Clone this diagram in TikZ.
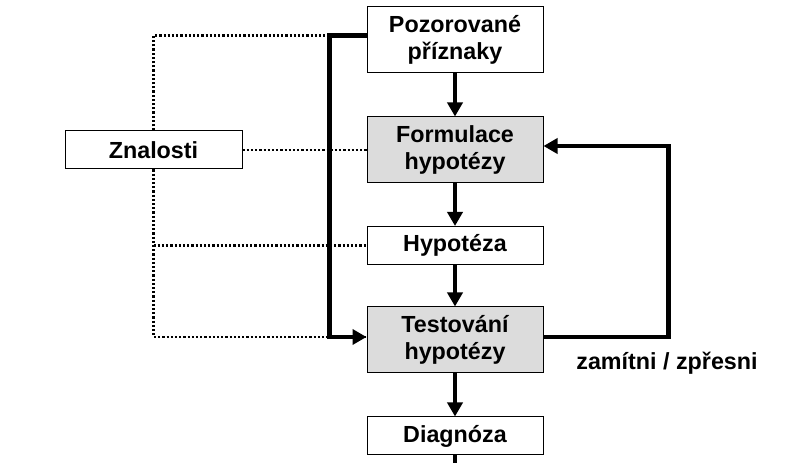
\documentclass[tikz,border=0pt]{standalone}
\usepackage{fontspec}
\setmainfont{Liberation Sans}
\usepackage{xcolor}
\usetikzlibrary{positioning,calc,arrows.meta}
\definecolor{boxgray}{HTML}{DCDCDC}

\begin{document}
\begin{tikzpicture}[x=1pt,y=1pt,
    box/.style={draw, line width=1pt, fill=white, minimum width=176pt, align=center, font=\fontsize{23.3}{27}\selectfont\bfseries, inner sep=0pt},
    tall/.style={box, minimum height=66pt},
    low/.style={box, minimum height=38pt},
    shaded/.style={fill=boxgray},
    flow/.style={line width=4.5pt, -{Triangle[length=14pt,width=15pt]}},
    know/.style={line width=2.2pt, dash pattern=on 2.2pt off 2pt}]
    \useasboundingbox (0,0) rectangle (787,463);
    % main column
    \node [tall] (poz) at (455, 423.5) {Pozorované\\příznaky};
    \node [tall, shaded] (form) at (455, 313) {Formulace\\hypotézy};
    \node [low] (hyp) at (455, 217.5) {Hypotéza};
    \node [tall, shaded] (test) at (455, 123) {Testování\\hypotézy};
    \node [low] (diag) at (455, 27) {Diagnóza};
    \node [low, minimum width=177pt] (znal) at (153.5, 313) {Znalosti};
    \node [font=\fontsize{23.3}{27}\selectfont\bfseries] (fb) at (667, 100) {zamítni / zpřesni};
    \coordinate (out) at (455, 0);
    % knowledge links
    \draw [know] (znal.north) |- ([yshift=4pt]poz.west);
    \draw [know] (znal.south) |- ([yshift=3pt]test.west);
    \draw [know] (znal.east) -- (form.west);
    \draw [know] (znal.south |- hyp.west) -- (hyp.west);
    % main flow
    \draw [flow] (poz) -- (form);
    \draw [flow] (form) -- (hyp);
    \draw [flow] (hyp) -- (test);
    \draw [flow] (test) -- (diag);
    \draw [line width=4.5pt] (diag.south) -- (out);
    \draw [flow] ([yshift=4pt]poz.west) -- ++(-37,0) |- ([yshift=3pt]test.west); % bypass
    \draw [flow] ([yshift=3pt]test.east) -- ++(125,0) |- ([yshift=4pt]form.east); % feedback
    % redraw boxes over the lines
    \node [tall] at (poz) {Pozorované\\příznaky};
    \node [tall, shaded] at (form) {Formulace\\hypotézy};
    \node [low] at (hyp) {Hypotéza};
    \node [tall, shaded] at (test) {Testování\\hypotézy};
    \node [low] at (diag) {Diagnóza};
    \node [low, minimum width=177pt] at (znal) {Znalosti};
\end{tikzpicture}
\end{document}
